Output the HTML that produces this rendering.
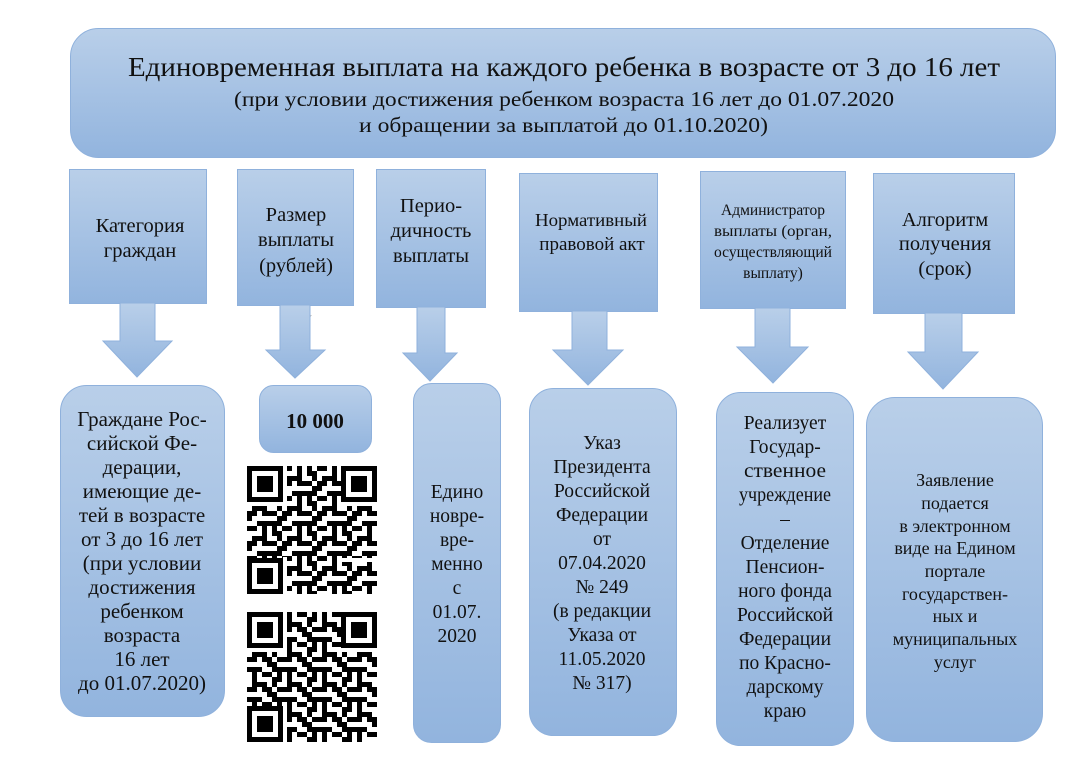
<!DOCTYPE html>
<html><head><meta charset="utf-8"><style>
html,body{margin:0;padding:0;background:#fff;}
svg{display:block;}
text{font-family:"Liberation Serif","DejaVu Serif",serif;fill:#111;}
</style></head><body>
<svg width="1079" height="768" viewBox="0 0 1079 768" xmlns="http://www.w3.org/2000/svg">
<defs>
<linearGradient id="g" x1="0" y1="0" x2="0" y2="1">
<stop offset="0" stop-color="#b9cfe9"/><stop offset="1" stop-color="#92b4de"/>
</linearGradient>
<pattern id="qr" x="0" y="0" width="35" height="30" patternUnits="userSpaceOnUse">
<rect width="35" height="30" fill="#fff"/>
<rect x="0" y="0" width="10" height="5" fill="#000"/>
<rect x="15" y="0" width="5" height="10" fill="#000"/>
<rect x="25" y="5" width="10" height="5" fill="#000"/>
<rect x="5" y="10" width="5" height="10" fill="#000"/>
<rect x="20" y="15" width="10" height="5" fill="#000"/>
<rect x="0" y="20" width="5" height="5" fill="#000"/>
<rect x="10" y="25" width="15" height="5" fill="#000"/>
<rect x="30" y="20" width="5" height="10" fill="#000"/>
<rect x="15" y="15" width="5" height="5" fill="#000"/>
<rect x="25" y="0" width="5" height="5" fill="#000"/>
<rect x="10" y="10" width="10" height="5" fill="#000"/>
<rect x="0" y="15" width="5" height="5" fill="#000"/>
<rect x="25" y="25" width="5" height="5" fill="#000"/>
<rect x="30" y="10" width="5" height="5" fill="#000"/>
</pattern>
<g id="finder"><rect x="0" y="0" width="36" height="36" fill="#000"/><rect x="5" y="5" width="26" height="26" fill="#fff"/><rect x="10" y="10" width="16" height="16" fill="#000"/><rect x="-1" y="36" width="40" height="4" fill="#fff"/><rect x="36" y="-1" width="4" height="40" fill="#fff"/></g>
</defs>

<!-- header -->
<rect x="70.5" y="28.5" width="985" height="129" rx="28" fill="url(#g)" stroke="#8fb1dc"/>
<text x="128" y="76" font-size="27" textLength="872" lengthAdjust="spacingAndGlyphs">Единовременная выплата на каждого ребенка в возрасте от 3 до 16 лет</text>
<text x="234" y="106" font-size="21" textLength="660" lengthAdjust="spacingAndGlyphs">(при условии достижения ребенком возраста 16 лет до 01.07.2020</text>
<text x="359" y="132" font-size="21" textLength="409" lengthAdjust="spacingAndGlyphs">и обращении за выплатой до 01.10.2020)</text>

<!-- top boxes -->
<g fill="url(#g)" stroke="#8fb1dc">
<rect x="69.5" y="169.5" width="137" height="134"/>
<rect x="237.5" y="169.5" width="116" height="136"/>
<rect x="376.5" y="169.5" width="109" height="138"/>
<rect x="519.5" y="173.5" width="138" height="138"/>
<rect x="700.5" y="171.5" width="145" height="137"/>
<rect x="873.5" y="173.5" width="141" height="140"/>
</g>
<path d="M282 315 L312 315 L300 330 Z" fill="#999" opacity="0.6"/>
<!-- arrows -->
<g fill="url(#g)" stroke="#8fb1dc">
<polygon points="120,303 155,303 155,341 172,341 137,377 103,341 120,341"/>
<polygon points="280,305 310,305 310,350 325,350 295,378 266,350 280,350"/>
<polygon points="417,307 445,307 445,353 457,353 430,381 403,353 417,353"/>
<polygon points="572,311 607,311 607,350 623,350 588,385 553,350 572,350"/>
<polygon points="755,308 790,308 790,347 808,347 773,383 737,347 755,347"/>
<polygon points="925,313 962,313 962,352 978,352 943,389 908,352 925,352"/>
</g>
<g font-size="20.5" text-anchor="middle">
<text x="140" y="232">Категория</text><text x="140" y="257">граждан</text>
<text x="296" y="221">Размер</text><text x="296" y="246">выплаты</text><text x="296" y="272">(рублей)</text>
<text x="431" y="212">Перио-</text><text x="431" y="237">дичность</text><text x="431" y="262">выплаты</text>
<text x="591" y="226" font-size="18" textLength="112" lengthAdjust="spacingAndGlyphs">Нормативный</text><text x="592" y="250" font-size="19">правовой акт</text>
<text x="773" y="215" font-size="15.5" textLength="104" lengthAdjust="spacingAndGlyphs">Администратор</text>
<text x="773" y="236" font-size="15.5" textLength="118" lengthAdjust="spacingAndGlyphs">выплаты (орган,</text>
<text x="773" y="257" font-size="15.5" textLength="118" lengthAdjust="spacingAndGlyphs">осуществляющий</text>
<text x="773" y="278" font-size="15.5">выплату)</text>
<text x="945" y="226">Алгоритм</text><text x="945" y="250">получения</text><text x="945" y="275">(срок)</text>
</g>

<!-- bottom boxes -->
<g fill="url(#g)" stroke="#8fb1dc">
<rect x="60.5" y="385.5" width="164" height="331" rx="26"/>
<rect x="259.5" y="385.5" width="112" height="67" rx="14"/>
<rect x="413.5" y="383.5" width="87" height="359" rx="18"/>
<rect x="529.5" y="388.5" width="147" height="347" rx="24"/>
<rect x="716.5" y="392.5" width="137" height="353" rx="24"/>
<rect x="866.5" y="397.5" width="176" height="344" rx="28"/>
</g>

<!-- QR codes -->
<g transform="translate(247,466)">
<rect width="130" height="128" fill="url(#qr)"/>
<use href="#finder" x="0" y="0"/><use href="#finder" x="94" y="0"/><use href="#finder" x="0" y="92"/>
<rect x="94" y="92" width="36" height="4" fill="#fff"/>
</g>
<g transform="translate(247,612)">
<rect width="130" height="130" fill="url(#qr)" transform="translate(130,0) scale(-1,1)"/>
<use href="#finder" x="0" y="0"/><use href="#finder" x="94" y="0"/><use href="#finder" x="0" y="94"/>
</g>

<g font-size="21" text-anchor="middle">
<text x="142" y="426">Граждане Рос-</text>
<text x="142" y="450">сийской Фе-</text>
<text x="142" y="474">дерации,</text>
<text x="142" y="498">имеющие де-</text>
<text x="142" y="522">тей в возрасте</text>
<text x="142" y="546">от 3 до 16 лет</text>
<text x="142" y="570">(при условии</text>
<text x="142" y="594">достижения</text>
<text x="142" y="618">ребенком</text>
<text x="142" y="642">возраста</text>
<text x="142" y="666">16 лет</text>
<text x="142" y="690">до 01.07.2020)</text>
</g>
<g font-size="19.5" text-anchor="middle">
<text x="315" y="428" font-size="21" font-weight="bold">10 000</text>

<text x="457" y="498">Едино</text>
<text x="457" y="522">новре-</text>
<text x="457" y="546">вре-</text>
<text x="457" y="570">менно</text>
<text x="457" y="594">с</text>
<text x="457" y="618">01.07.</text>
<text x="457" y="642">2020</text>

<text x="602" y="449">Указ</text>
<text x="602" y="473">Президента</text>
<text x="602" y="497">Российской</text>
<text x="602" y="521">Федерации</text>
<text x="602" y="545">от</text>
<text x="602" y="569">07.04.2020</text>
<text x="602" y="593">№ 249</text>
<text x="602" y="617">(в редакции</text>
<text x="602" y="641">Указа от</text>
<text x="602" y="665">11.05.2020</text>
<text x="602" y="689">№ 317)</text>

<text x="785" y="429">Реализует</text>
<text x="785" y="453">Государ-</text>
<text x="785" y="477" textLength="82" lengthAdjust="spacingAndGlyphs">ственное</text>
<text x="785" y="501" textLength="92" lengthAdjust="spacingAndGlyphs">учреждение</text>
<text x="785" y="525">–</text>
<text x="785" y="549">Отделение</text>
<text x="785" y="573">Пенсион-</text>
<text x="785" y="597">ного фонда</text>
<text x="785" y="621">Российской</text>
<text x="785" y="645">Федерации</text>
<text x="785" y="669">по Красно-</text>
<text x="785" y="693">дарскому</text>
<text x="785" y="717">краю</text>
</g>
<g font-size="18" text-anchor="middle">
<text x="955" y="486">Заявление</text>
<text x="955" y="509">подается</text>
<text x="955" y="532">в электронном</text>
<text x="955" y="554">виде на Едином</text>
<text x="955" y="577">портале</text>
<text x="955" y="600">государствен-</text>
<text x="955" y="622">ных и</text>
<text x="955" y="645">муниципальных</text>
<text x="955" y="668">услуг</text>
</g>
</svg>
</body></html>
